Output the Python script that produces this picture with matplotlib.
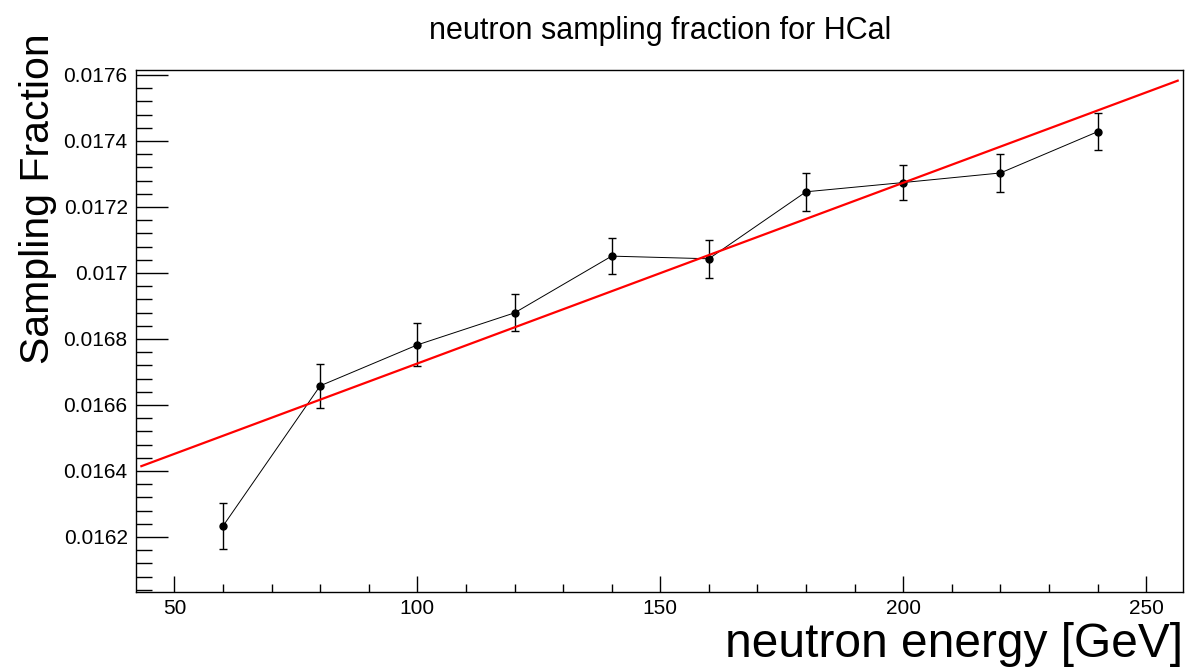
import numpy as np
import matplotlib
matplotlib.use("Agg")
import matplotlib.pyplot as plt
from matplotlib.ticker import MultipleLocator

plt.rcParams['font.family'] = ['Liberation Sans', 'DejaVu Sans']

# data
energy = [60, 80, 100, 120, 140, 160, 180, 200, 220, 240]
frac = [0.016233, 0.016658, 0.016782, 0.016879, 0.017051,
        0.017043, 0.017246, 0.017274, 0.017303, 0.017428]
frac_err = [0.000071, 0.000067, 0.000065, 0.000056, 0.000055,
            0.000057, 0.000058, 0.000053, 0.000058, 0.000056]
# linear fit p0 + p1*x
fit_p0 = 0.0161779
fit_p1 = 5.477e-6
fit_range = [43.2, 256.5]

fig = plt.figure(figsize=(11.86, 6.67), dpi=100)
ax = fig.add_axes([0.1147, 0.1124, 0.8828, 0.7826])

ax.errorbar(energy, frac, yerr=frac_err, fmt='o', color='black', ms=5,
            elinewidth=1.0, capsize=3, capthick=1.0, zorder=3)
ax.plot(energy, frac, color='black', lw=0.7, zorder=2)
xf = np.array(fit_range)
ax.plot(xf, fit_p0 + fit_p1 * xf, color='red', lw=1.6, zorder=4)

ax.set_xlim(42.1, 257.6)
ax.set_ylim(0.016033, 0.017615)

ax.xaxis.set_major_locator(MultipleLocator(50))
ax.xaxis.set_minor_locator(MultipleLocator(10))
ax.yaxis.set_major_locator(MultipleLocator(0.0002))
ax.yaxis.set_minor_locator(MultipleLocator(0.00004))
ax.yaxis.set_major_formatter(plt.FuncFormatter(lambda v, p: ('%.4f' % v).rstrip('0')))

ax.tick_params(axis='y', which='major', direction='in', length=23, width=1, labelsize=15, pad=6)
ax.tick_params(axis='y', which='minor', direction='in', length=11.5, width=1)
ax.tick_params(axis='x', which='major', direction='in', length=11.5, width=1, labelsize=15, pad=5)
ax.tick_params(axis='x', which='minor', direction='in', length=5.8, width=1)
for s in ax.spines.values():
    s.set_linewidth(1)

fig.text(0.557, 0.953, 'neutron sampling fraction for HCal', ha='center', va='center', fontsize=22)
fig.text(0.9975, 0.0, 'neutron energy [GeV]', ha='right', va='bottom', fontsize=34.5)
fig.text(0.032, 0.95, 'Sampling Fraction', ha='center', va='top', rotation=90, fontsize=29.5)

fig.savefig('out.png', dpi=100)
